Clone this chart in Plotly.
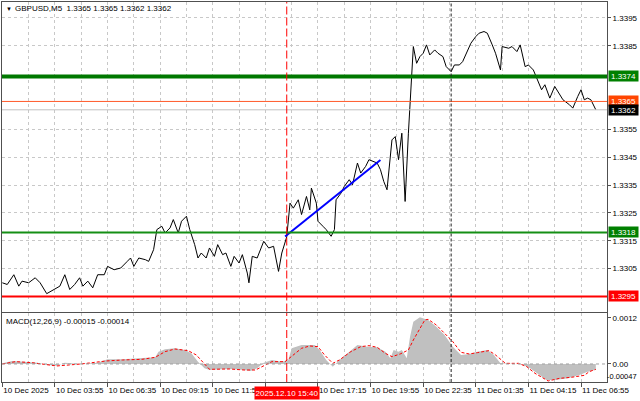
import plotly.graph_objects as go

# ---------------- data ----------------
price_bars = [0, 3, 7, 10, 12, 16, 20, 23, 27, 31, 35, 38, 41, 44, 47, 49, 52, 55, 58, 62,
              64, 68, 72, 76, 78, 80, 83, 87, 89, 92, 94, 97, 99, 102, 104, 107, 109, 112, 114, 117,
              119, 121, 124, 126, 129, 131, 134, 136, 139, 141, 144, 146, 149, 150, 152, 155, 157, 159, 162, 165,
              168, 170, 173, 175, 177, 180, 182, 185, 187, 188, 191, 192, 195, 197, 200, 202, 203, 206, 208, 211,
              213, 216, 218, 221, 223, 226, 228, 230, 232, 234, 237, 239, 241, 243, 245, 247, 248, 249, 250, 252,
              254, 256, 258, 260, 263, 265, 268, 270, 273, 275, 278, 280, 283, 285, 288, 290, 293, 295, 298, 300,
              303, 304, 308, 310, 313, 315, 318, 320, 323, 325, 328, 330, 333, 336, 339, 341, 345, 347, 350, 352,
              354, 356, 358, 361]
price_close = [1.32999, 1.32993, 1.33028, 1.32987, 1.33005, 1.32999, 1.33017, 1.32999, 1.32960, 1.32975,
               1.32987, 1.33028, 1.32975, 1.32993, 1.33017, 1.32987, 1.33005, 1.32981, 1.33028, 1.33028,
               1.33058, 1.33046, 1.33052, 1.33076, 1.33088, 1.33058, 1.33088, 1.33082, 1.33076, 1.33118,
               1.33190, 1.33202, 1.33178, 1.33196, 1.33226, 1.33178, 1.33220, 1.33238, 1.33190, 1.33136,
               1.33088, 1.33106, 1.33088, 1.33124, 1.33094, 1.33136, 1.33100, 1.33106, 1.33058, 1.33094,
               1.33070, 1.33100, 1.33034, 1.32999, 1.33094, 1.33088, 1.33118, 1.33148, 1.33124, 1.33130,
               1.33040, 1.33106, 1.33164, 1.33285, 1.33267, 1.33297, 1.33244, 1.33309, 1.33261, 1.33339,
               1.33285, 1.33220, 1.33202, 1.33190, 1.33166, 1.33190, 1.33297, 1.33321, 1.33345, 1.33369,
               1.33351, 1.33429, 1.33393, 1.33417, 1.33441, 1.33435, 1.33429, 1.33405, 1.33363, 1.33333,
               1.33512, 1.33524, 1.33441, 1.33536, 1.33291, 1.33536, 1.33656, 1.33775, 1.33847, 1.33787,
               1.33811, 1.33823, 1.33853, 1.33817, 1.33835, 1.33823, 1.33811, 1.33775, 1.33757, 1.33781,
               1.33781, 1.33793, 1.33835, 1.33859, 1.33883, 1.33895, 1.33901, 1.33895, 1.33853, 1.33823,
               1.33763, 1.33847, 1.33841, 1.33847, 1.33829, 1.33853, 1.33775, 1.33781, 1.33763, 1.33733,
               1.33692, 1.33710, 1.33662, 1.33704, 1.33674, 1.33656, 1.33638, 1.33626, 1.33668, 1.33692,
               1.33656, 1.33662, 1.33656, 1.33620]

trend_bars = [172, 230]
trend_prices = [1.33165, 1.33440]

macd_bars = [0, 6, 13, 21, 28, 33, 38, 48, 58, 64, 73, 83, 93, 95, 99, 105, 111, 115, 119, 123,
             126, 133, 140, 147, 151, 155, 159, 164, 170, 174, 176, 182, 190, 193, 197, 201, 205, 210, 216, 222,
             228, 233, 236, 238, 241, 243, 246, 248, 250, 254, 259, 264, 269, 274, 279, 284, 289, 295, 299, 303,
             309, 316, 321, 326, 331, 336, 344, 351, 356, 361]
macd_main = [0.000017, 0.000078, 0.000061, 0.000035, -0.000026, -0.000043, 0.000035, 0.0, 0.000035, 0.000122,
             0.000122, 0.000148, 0.000174, 0.000322, 0.000383, 0.000409, 0.000365, 0.000278, 0.000061, -0.000113,
             -0.000157, -0.000139, -0.000130, -0.000157, -0.000183, -0.000113, 0.000035, 0.000104, 0.000061, 0.000104,
             0.000409, 0.000496, 0.000496, 0.000365, 0.000104, -0.000070, 0.000104, 0.000278, 0.000496, 0.000452,
             0.000435, 0.000322, 0.000148, 0.000365, 0.000322, 0.000365, 0.000148, 0.000713, 0.001104, 0.001217,
             0.001148, 0.000974, 0.000757, 0.000452, 0.000235, 0.000261, 0.000322, 0.000365, 0.000235, 0.000017,
             0.0, -0.000009, -0.000113, -0.000261, -0.000417, -0.000417, -0.000374, -0.000287, -0.000200, -0.000150]

signal_bars = [0, 8, 18, 33, 48, 63, 73, 85, 93, 99, 105, 113, 118, 123, 126, 138, 147, 154, 159, 164,
               172, 176, 182, 187, 192, 196, 201, 205, 212, 218, 223, 228, 233, 237, 242, 247, 250, 257, 259, 264,
               269, 274, 279, 284, 289, 296, 300, 306, 314, 319, 324, 329, 332, 339, 346, 354, 357, 361]
macd_signal = [0.0, 0.000061, 0.000035, -0.000052, 0.0, 0.000078, 0.000104, 0.000122, 0.000174, 0.000322,
               0.000391, 0.000348, 0.000235, 0.000017, -0.000139, -0.000130, -0.000157, -0.000157, -0.000052, 0.000061,
               0.000061, 0.000191, 0.000409, 0.000470, 0.000452, 0.000235, 0.000017, 0.000104, 0.000322, 0.000452,
               0.000478, 0.000435, 0.000278, 0.000191, 0.000261, 0.000365, 0.000626, 0.001148, 0.001165, 0.001017,
               0.000800, 0.000583, 0.000304, 0.000261, 0.000296, 0.000348, 0.000235, 0.000017, 0.000017, -0.000070,
               -0.000243, -0.000374, -0.000443, -0.000374, -0.000348, -0.000296, -0.000200, -0.000140]

time_tick_bars = [0, 32, 64, 96, 128, 160, 192, 224, 256, 288, 320, 352]
time_tick_labels = ["10 Dec 2025", "10 Dec 03:55", "10 Dec 06:35", "10 Dec 09:15", "10 Dec 11:55",
                    "10 Dec 14:35", "10 Dec 17:15", "10 Dec 19:55", "10 Dec 22:35", "11 Dec 01:35",
                    "11 Dec 04:15", "11 Dec 06:55"]
price_ticks = [1.3305, 1.3315, 1.3325, 1.3335, 1.3345, 1.3355, 1.3385, 1.3395]

level_values = [1.3374, 1.3318, 1.3295, 1.3365, 1.3362]
level_labels = ["1.3374", "1.3318", "1.3295", "1.3365", "1.3362"]

signal_bar = 173
signal_label = "2025.12.10 15:40"
day_sep_bar = 273
title_text = "GBPUSD,M5  1.3365 1.3365 1.3362 1.3362"
macd_text = "MACD(12,26,9) -0.00015 -0.00014"

# ---------------- geometry helpers ----------------
W, H = 640, 401
ML, MR, MT, MB = 2, 33, 2, 19
PW, PH = W - ML - MR, H - MT - MB


def px_x(px):
    return (px - ML) / PW


def px_y(py):
    return (H - MB - py) / PH


FONT = "Liberation Sans"
GRID = "#c8c8c8"
FRAME = "#505050"

fig = go.Figure()

# MACD histogram (area) and signal
fig.add_trace(go.Scatter(x=macd_bars, y=macd_main, mode="lines", line=dict(width=0, color="#c0c0c0"),
                         fill="tozeroy", fillcolor="#c0c0c0", xaxis="x2", yaxis="y2", hoverinfo="skip"))
fig.add_trace(go.Scatter(x=signal_bars, y=macd_signal, mode="lines",
                         line=dict(width=1, color="#ff0000", dash="3px,2px"),
                         xaxis="x2", yaxis="y2", hoverinfo="skip"))

# price line
fig.add_trace(go.Scatter(x=price_bars, y=price_close, mode="lines", line=dict(width=1, color="#000000"),
                         xaxis="x", yaxis="y"))
# blue trend line
fig.add_trace(go.Scatter(x=trend_bars, y=trend_prices, mode="lines", line=dict(width=2, color="#0000ff"),
                         xaxis="x", yaxis="y"))

xr = [-0.2, 367.8]
grid_common = dict(showgrid=True, gridcolor=GRID, gridwidth=1, griddash="3px,3px")

fig.update_layout(
    width=W, height=H, margin=dict(l=ML, r=MR, t=MT, b=MB, autoexpand=False),
    paper_bgcolor="white", plot_bgcolor="white", showlegend=False,
    font=dict(family=FONT, size=8, color="#000000"),
    xaxis=dict(domain=[0, 1], anchor="y", range=xr, tickmode="linear", tick0=0, dtick=16,
               showticklabels=False, ticks="", zeroline=False, automargin=False,
               showline=True, mirror=True, linecolor=FRAME, linewidth=1, **grid_common),
    yaxis=dict(domain=[px_y(311.5), 1], anchor="x", range=[1.32896, 1.34007], side="right",
               tickvals=price_ticks, ticktext=[f"{v:.4f}" for v in price_ticks], automargin=False,
               ticks="outside", ticklen=3, tickcolor=FRAME, zeroline=False,
               showline=True, mirror=True, linecolor=FRAME, linewidth=1, **grid_common),
    xaxis2=dict(domain=[0, 1], anchor="y2", range=xr, matches="x", automargin=False,
                tickmode="array", tickvals=time_tick_bars, ticktext=time_tick_labels, tickangle=0,
                ticklabelposition="outside right", ticks="outside", ticklen=4, tickcolor=FRAME,
                zeroline=False, showline=True, mirror=True, linecolor=FRAME, linewidth=1,
                minor=dict(tickmode="linear", tick0=0, dtick=16, showgrid=True, gridcolor=GRID,
                           griddash="3px,3px", ticks=""),
                **grid_common),
    yaxis2=dict(domain=[0, px_y(313)], anchor="x2", range=[-0.00047, 0.00133], side="right",
                tickvals=[0, 0.0012], ticktext=["0.00", "0.0012"], ticks="outside", ticklen=3,
                tickcolor=FRAME, showgrid=False, zeroline=False, automargin=False,
                showline=True, mirror=True, linecolor=FRAME, linewidth=1),
)

shapes = []
# MACD zero level
shapes.append(dict(type="line", xref="x2 domain", yref="y2", x0=0, x1=1, y0=0, y1=0,
                   line=dict(color="#a0a0a0", width=1, dash="3px,3px")))
# horizontal levels
level_styles = [("#007800", 4), ("#158f15", 2), ("#ff0000", 2), ("#ff5a2a", 1), ("#c0c0c0", 1)]
for v, (c, w) in zip(level_values, level_styles):
    shapes.append(dict(type="line", xref="x domain", yref="y", x0=0, x1=1, y0=v, y1=v,
                       line=dict(color=c, width=w)))
# vertical red dashed and day separator in both panels
for xa, ya in (("x", "y domain"), ("x2", "y2 domain")):
    shapes.append(dict(type="line", xref=xa, yref=ya, x0=signal_bar, x1=signal_bar, y0=0, y1=1,
                       line=dict(color="#ff0000", width=1, dash="8px,3px")))
    shapes.append(dict(type="line", xref=xa, yref=ya, x0=day_sep_bar, x1=day_sep_bar, y0=0, y1=1,
                       line=dict(color="#202020", width=1, dash="3px,2px")))
fig.update_layout(shapes=shapes)

ann = []
label_bg = ["#008000", "#008000", "#ff0000", "#ff4500", "#000000"]
for v, t, bg in zip(level_values, level_labels, label_bg):
    ann.append(dict(xref="paper", yref="y", x=px_x(608), y=v, xanchor="left", yanchor="middle",
                    text=t, showarrow=False, bgcolor=bg, width=29, height=10, borderpad=0,
                    font=dict(color="white", size=8, family=FONT)))
ann.append(dict(xref="paper", yref="paper", x=px_x(639), y=px_y(383), xanchor="right", yanchor="bottom",
                text="-0.00047", showarrow=False, font=dict(size=7.5, family=FONT)))
ann.append(dict(xref="paper", yref="paper", x=px_x(4), y=px_y(9), xanchor="left", yanchor="middle",
                text="\u25BC", showarrow=False, font=dict(size=6, family=FONT)))
ann.append(dict(xref="paper", yref="paper", x=px_x(13), y=px_y(9), xanchor="left", yanchor="middle",
                text=title_text, showarrow=False, font=dict(size=8, family=FONT)))
ann.append(dict(xref="paper", yref="paper", x=px_x(4), y=px_y(321), xanchor="left", yanchor="middle",
                text=macd_text, showarrow=False, font=dict(size=8, family=FONT)))
ann.append(dict(xref="x2", yref="paper", x=signal_bar, y=px_y(392.5), xanchor="center", yanchor="middle",
                text=signal_label, showarrow=False, bgcolor="#ff0000", width=64, height=12, borderpad=0,
                font=dict(color="white", size=8, family=FONT)))
fig.update_layout(annotations=ann)

fig.write_html("out.html", config={"displayModeBar": False},
               post_script="document.body.style.margin='0';document.body.style.padding='0';")
